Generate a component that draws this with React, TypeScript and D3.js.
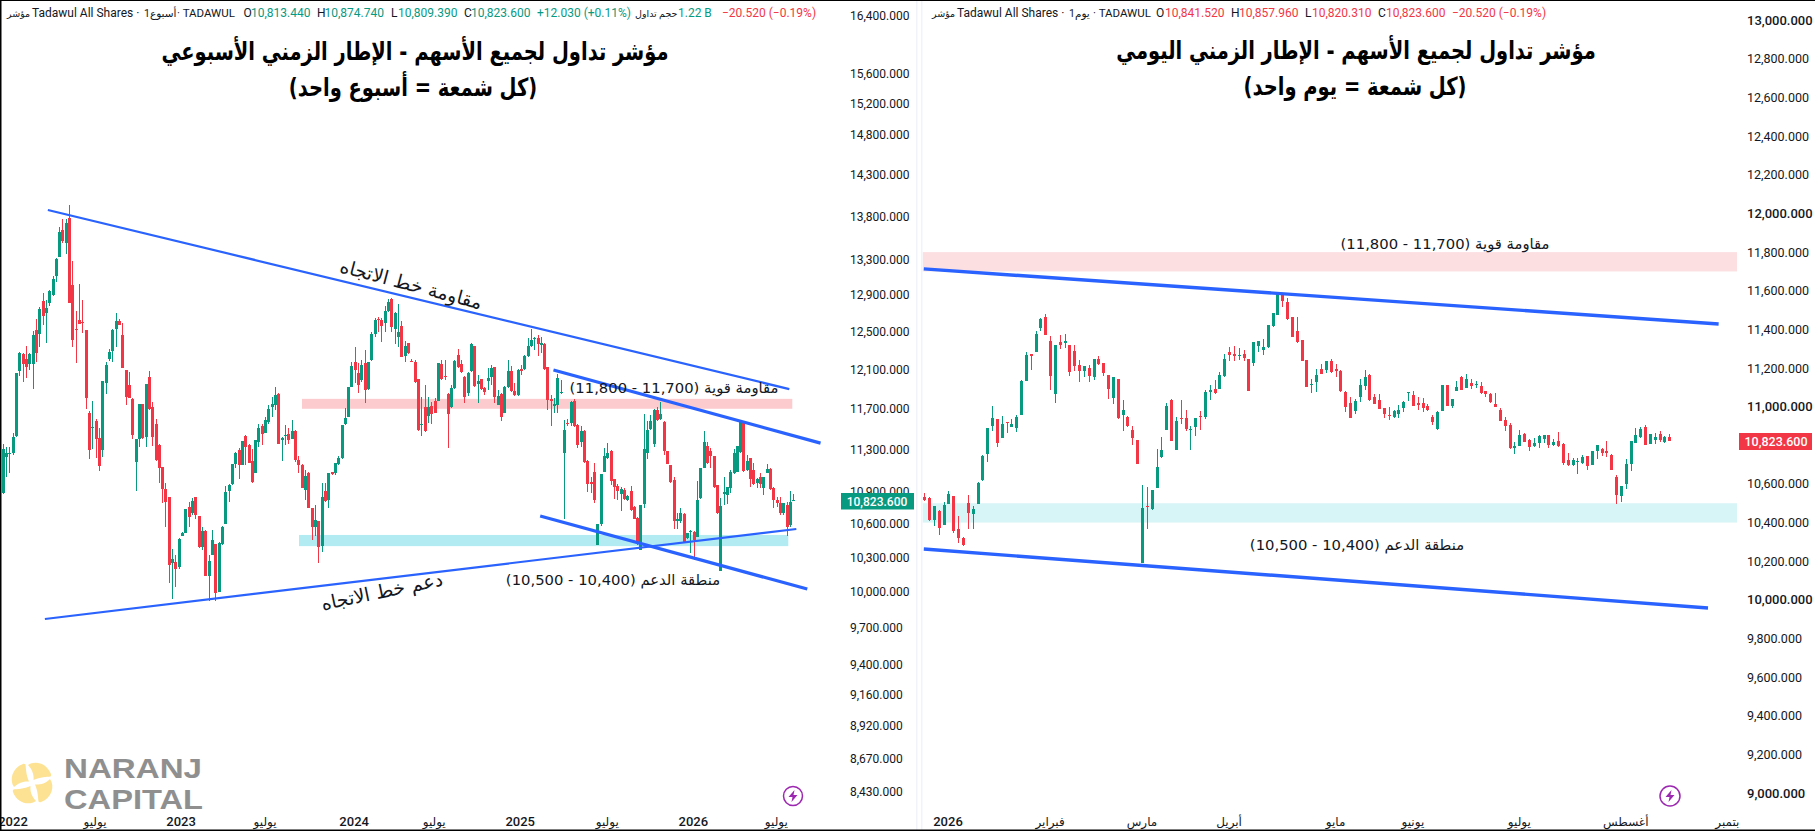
import * as d3 from 'd3';

type Candle = [number, number, number, number]; // open, high, low, close

const UP = '#089981';
const DOWN = '#f23645';
const LINE = '#2962ff';
const TEXT = '#131722';
const LAST_PRICE = 10823.6;

// weekly bars
const weeklyCandles: Candle[] = [
  [10886,11352,10874,11300],[11228,11325,11031,11260],[11254,11325,11070,11267],[11260,11455,11244,11416],[11429,12067,11423,12060],
  [12085,12286,12033,12276],[12261,12268,11974,12157],[12209,12347,12008,12130],[12157,12268,12095,12261],[12157,12506,11898,12464],
  [12517,12632,12178,12276],[12474,12770,12340,12741],[12833,12917,12570,12668],[12705,12843,12382,12752],[12807,12953,12781,12942],
  [12898,13111,12887,13077],[13111,13314,13047,13303],[13329,13670,13327,13611],[13639,13764,13492,13515],[13484,13764,13360,13724],
  [13776,13935,12812,12814],[13009,13280,12340,12410],[12528,12723,12171,12520],[12624,13021,12580,12581],[12603,12843,12489,12596],
  [12517,12518,11700,11811],[11660,11680,11209,11293],[11511,11777,11300,11517],[11580,11593,11218,11403],[11410,11504,11095,11139],
  [11293,11982,11228,11981],[11964,12181,11848,12147],[12209,12311,12185,12279],[12293,12524,12181,12517],[12528,12705,12340,12613],
  [12613,12632,12567,12574],[12464,12588,12112,12119],[12095,12096,11737,11818],[11940,12071,11810,11811],[11798,11804,11397,11436],
  [11180,11398,10905,11397],[11397,11748,11325,11747],[11751,11752,11397,11407],[11423,11951,11325,11950],[12022,12081,11686,11693],
  [11713,11767,11332,11423],[11547,11593,11190,11196],[11342,11352,10974,11123],[11126,11127,10794,10920],[10920,10974,10573,10803],
  [10846,10847,10072,10231],[10252,10370,9939,10284],[10255,10319,10043,10197],[10217,10469,10194,10468],[10492,10528,10490,10522],
  [10522,10733,10521,10732],[10757,10803,10573,10665],[10695,10834,10680,10812],[10843,10844,10649,10680],[10671,10672,10379,10388],
  [10388,10573,10364,10534],[10540,10541,10136,10139],[10139,10319,9922,10266],[10325,10543,10319,10453],[10417,10418,9922,9994],
  [9999,10433,9998,10432],[10417,10577,10409,10576],[10597,10949,10596,10893],[10905,10968,10803,10958],[10965,11156,10964,11155],
  [11158,11277,11117,11260],[11293,11309,11012,11150],[11150,11385,11149,11384],[11429,11439,11148,11325],[11345,11352,11165,11171],
  [11184,11300,10980,10990],[11073,11388,11072,11387],[11371,11553,11325,11508],[11527,11553,11339,11446],[11462,11620,11455,11586],
  [11570,11737,11553,11697],[11717,11821,11620,11747],[11737,11922,11687,11838],[11848,11861,11349,11355],[11390,11416,11190,11410],
  [11429,11543,11342,11439],[11446,11504,11352,11390],[11403,11586,11397,11475],[11481,11488,11180,11196],[11196,11234,11076,11145],
  [11145,11158,10927,10933],[10911,11101,10819,11044],[11076,11085,10747,10748],[10748,10749,10453,10573],[10573,10772,10492,10640],
  [10628,10629,10252,10394],[10400,10974,10349,10843],[10899,10974,10803,10812],[10818,11071,10748,11070],[11079,11085,11054,11067],
  [11070,11171,11054,11165],[11158,11234,11150,11215],[11212,11538,11211,11537],[11553,11710,11537,11603],[11620,11923,11613,11922],
  [11922,12181,11921,12136],[12181,12333,11964,12095],[12067,12164,11864,11943],[11991,12198,11974,12147],[12171,12304,11761,11888],
  [11895,12182,11888,12181],[12198,12499,12191,12474],[12474,12642,12446,12624],[12635,12654,12499,12621],[12624,12642,12393,12563],
  [12596,12778,12499,12727],[12727,12851,12716,12822],[12851,12862,12499,12553],[12528,12716,12368,12697],[12443,12796,12340,12492],
  [12560,12613,12232,12233],[12243,12400,12181,12347],[12375,12382,12261,12268],[12191,12215,12174,12181],[12181,12198,11964,11974],
  [11999,12000,11483,11490],[11546,11816,11434,11552],[11722,11938,11474,11480],[11631,11816,11556,11722],[11729,11773,11549,11644],
  [11783,11806,11654,11661],[11783,12173,11782,12172],[12154,12202,11992,12002],[12034,12195,11992,12027],[11850,11857,11316,11647],
  [11718,11941,11705,11907],[11907,12197,11897,12190],[12253,12312,12113,12124],[12154,12202,12060,12070],[12027,12034,11762,11823],
  [11857,12070,11830,12067],[12088,12382,12077,12368],[12347,12348,11924,11931],[11955,12043,11762,11978],[12002,12003,11890,11900],
  [11914,11924,11840,11873],[11985,12113,11890,12013],[12027,12147,11941,12113],[12124,12125,11762,11823],[11739,11890,11738,11830],
  [11847,11857,11582,11621],[11661,11931,11654,11924],[11917,12202,11907,12088],[12088,12136,11873,11880],[11883,11958,11830,11840],
  [11840,12102,11833,12095],[12102,12147,12043,12095],[12102,12253,12095,12242],[12242,12429,12236,12347],[12347,12530,12340,12411],
  [12422,12447,12305,12429],[12429,12465,12242,12368],[12368,12447,12270,12375],[12368,12375,12095,12102],[12124,12125,11688,11789],
  [11796,11840,11533,11782],[11729,11806,11661,11746],[11739,12056,11661,12010],[11857,11992,11847,11871],[11262,11588,10644,11490],
  [11556,11595,11533,11546],[11556,11782,11530,11766],[11782,11796,11523,11530],[11539,11549,11310,11342],[11375,11530,11326,11483],
  [11483,11490,11170,11176],[11186,11196,10890,10973],[10992,11038,10884,10970],[11087,11166,10796,10821],[10411,10596,10410,10595],
  [10595,11065,10580,11064],[11087,11310,11081,11237],[11214,11359,11208,11269],[11284,11294,10961,10995],[11013,11014,10827,10939],
  [10951,10970,10821,10908],[10877,10945,10722,10920],[10914,10929,10821,10827],[10815,10868,10809,10858],[10908,10951,10719,10725],
  [10759,10760,10642,10643],[10658,10660,10411,10420],[10367,10775,10361,10774],[10784,11644,10750,11304],[11262,11582,11205,11490],
  [11503,11638,11490,11582],[11352,11695,11320,11688],[11688,11722,11582,11588],[11595,11773,11588,11644],[11572,11573,11246,11284],
  [11281,11282,11157,11163],[11150,11151,10982,10988],[11007,11038,10558,10629],[10629,10697,10558,10641],[10622,10742,10607,10697],
  [10691,10697,10426,10432],[10471,10522,10462,10516],[10528,10546,10336,10540],[10531,10532,10273,10456],[10486,10998,10480,10815],
  [10834,11118,10833,11117],[11123,11480,11117,11369],[11336,11369,11163,11170],[11284,11310,11120,11237],[11237,11238,10930,10939],
  [10961,10962,10688,10697],[10180,10836,10179,10765],[10877,11032,10774,10890],[10868,10945,10784,10939],[10936,11103,10883,11087],
  [11070,11304,11063,11262],[11087,11337,11086,11336],[11278,11582,11268,11572],[11556,11572,11087,11093],[11103,11246,11096,11183],
  [11214,11221,10945,11017],[11103,11166,10961,10973],[10976,11023,10930,11017],[11038,11070,10930,10970],[10930,11038,10868,11032],
  [11075,11160,11070,11109],[11109,11119,10914,10920],[10936,10939,10744,10821],[10821,10852,10759,10790],[10796,10852,10682,10697],
  [10697,10796,10682,10790],[10774,10805,10492,10576],[10591,10908,10570,10805],[10813.44,10874.74,10809.39,10823.6],
];

// daily bars
const dailyCandles: Candle[] = [
  [10531,10552,10514,10517],[10526,10530,10410,10411],[10414,10486,10383,10486],[10462,10466,10336,10374],[10388,10504,10385,10492],
  [10497,10561,10495,10549],[10538,10540,10345,10357],[10367,10435,10293,10319],[10319,10324,10279,10285],[10500,10543,10366,10452],
  [10445,10486,10366,10471],[10498,10609,10496,10605],[10618,10749,10616,10745],[10757,10890,10714,10890],[10902,11004,10875,10942],
  [10937,10938,10793,10812],[10838,10952,10836,10909],[10919,10920,10862,10914],[10897,10935,10895,10911],[10892,10957,10869,10945],
  [10959,11137,10956,11133],[11135,11283,11133,11268],[11273,11274,11190,11264],[11285,11392,11283,11378],[11408,11461,11392,11456],
  [11465,11480,11369,11371],[11340,11366,11087,11159],[11063,11320,11021,11320],[11335,11371,11299,11321],[11327,11377,11304,11339],
  [11320,11321,11159,11180],[11289,11320,11187,11211],[11216,11242,11130,11187],[11187,11211,11151,11211],[11201,11216,11130,11159],
  [11151,11248,11139,11247],[11247,11263,11216,11221],[11225,11226,11161,11176],[11164,11165,11040,11092],[11047,11154,11016,11154],
  [11144,11145,10935,10942],[10959,11035,10875,10983],[10949,10952,10897,10900],[10880,10900,10802,10838],[10825,10828,10703,10704],
  [10193,10595,10192,10476],[10486,10585,10367,10483],[10469,10569,10466,10566],[10581,10781,10578,10688],[10738,10842,10733,10776],
  [10880,11018,10879,11004],[11035,11038,10822,10823],[10776,10945,10775,10926],[10942,11035,10911,10938],[10942,10983,10875,10885],
  [10881,10900,10776,10885],[10895,10943,10849,10942],[10952,10978,10880,10947],[10944,11087,10937,11076],[11076,11113,11035,11087],
  [11092,11139,11066,11070],[11092,11180,11091,11164],[11159,11273,11154,11247],[11283,11309,11237,11268],[11273,11314,11237,11263],
  [11263,11304,11242,11268],[11273,11294,11237,11252],[11247,11248,11081,11082],[11226,11335,11211,11335],[11314,11340,11283,11340],
  [11294,11351,11268,11309],[11309,11423,11304,11423],[11418,11485,11414,11485],[11475,11587,11473,11584],[11584,11585,11516,11547],
  [11542,11563,11449,11452],[11465,11466,11359,11361],[11392,11465,11330,11333],[11345,11346,11236,11237],[11242,11243,11101,11102],
  [11113,11144,11071,11118],[11128,11195,11076,11164],[11195,11221,11168,11170],[11190,11237,11176,11237],[11237,11245,11176,11180],
  [11195,11221,11154,11185],[11185,11190,11076,11082],[11076,11082,10973,10999],[11020,11049,10941,10942],[10978,11040,10963,11030],
  [11051,11144,11025,11113],[11107,11190,11087,11154],[11164,11168,11031,11032],[11051,11066,11013,11014],[11035,11066,10988,10988],
  [10994,10995,10942,10963],[10957,10999,10931,10952],[10947,10983,10942,10978],[10963,11007,10942,10983],[10994,11030,10973,11025],
  [11071,11075,11028,11075],[11061,11082,11003,11004],[11020,11051,10983,11009],[11020,11045,10973,10994],[11004,11014,10978,10983],
  [10947,10957,10906,10921],[10885,10978,10880,10973],[10978,11113,10977,11113],[11113,11114,11003,11004],[11004,11040,10994,11040],
  [11082,11133,11080,11102],[11154,11158,11086,11087],[11097,11170,11096,11144],[11123,11144,11092,11107],[11113,11133,11095,11118],
  [11107,11128,11066,11071],[11082,11083,11052,11066],[11066,11071,11020,11025],[11014,11071,10998,10999],[10983,10994,10925,10926],
  [10931,10947,10875,10900],[10906,10914,10781,10785],[10785,10818,10756,10797],[10797,10880,10796,10854],[10859,10862,10817,10818],
  [10828,10833,10771,10792],[10797,10838,10792,10812],[10812,10852,10787,10849],[10833,10855,10812,10854],[10852,10854,10787,10802],
  [10802,10833,10797,10816],[10823,10869,10792,10797],[10807,10812,10699,10707],[10724,10761,10693,10699],[10699,10735,10693,10723],
  [10716,10733,10652,10719],[10709,10750,10704,10740],[10745,10746,10673,10693],[10699,10771,10698,10771],[10771,10802,10730,10802],
  [10781,10787,10745,10761],[10771,10823,10740,10762],[10750,10755,10672,10673],[10636,10647,10497,10542],[10538,10590,10507,10590],
  [10600,10730,10574,10704],[10704,10823,10668,10823],[10812,10890,10811,10854],[10844,10897,10838,10885],[10895,10906,10801,10802],
  [10809,10859,10807,10857],[10828,10863,10809,10844],[10859,10875,10818,10826],[10816,10849,10812,10844],[10841.52,10857.96,10820.31,10823.6],
];

const weeklyTicks = [16400,15600,15200,14800,14300,13800,13300,12900,12500,12100,11700,11300,10900,10600,10300,10000,9700,9400,9160,8920,8670,8430];
const dailyTicks = [13000,12800,12600,12400,12200,12000,11800,11600,11400,11200,11000,10600,10400,10200,10000,9800,9600,9400,9200,9000];

const weeklyTimeLabels = ['2022','يوليو','2023','يوليو','2024','يوليو','2025','يوليو','2026','يوليو'];
const weeklyTimeBars = [3.1,27.8,53.7,79,105.8,129.9,155.8,182,207.9,232.9];
const dailyTimeLabels = ['2026','فبراير','مارس','أبريل','مايو','يونيو','يوليو','أغسطس','بتمبر'];
const dailyTimeBars = [4.9,26,45,63,85,101,123,145,166];

// trendlines: [bar, price, bar, price, stroke]
const weeklyLines = [
  [13.6,13875,236.8,11899,2.2],
  [12.7,9770,238.9,10554,2.2],
  [165.8,12095,246.2,11360,3.2],
  [161.8,10672,242.2,10024,3.2],
];
const dailyLines = [
  [-0.1,11713,164.2,11428,3.4],
  [-0.1,10263,162,9958,3.4],
];

const resistanceZone = [11800,11700];
const supportZone = [10500,10400];

const FONT = "Roboto, 'DejaVu Sans', sans-serif";
const ARABIC = "'DejaVu Sans', sans-serif";

const Candles = ({ data, x, y, w }: { data: Candle[]; x: (i: number) => number; y: (v: number) => number; w: number }) => (
  <g shapeRendering="crispEdges">
    {data.map(([o, h, l, c], i) => {
      const cx = Math.round(x(i));
      const col = c >= o ? UP : DOWN;
      const top = y(Math.max(o, c));
      const bot = y(Math.min(o, c));
      return (
        <g key={i} fill={col}>
          <rect x={cx} y={y(h)} width={1} height={Math.max(1, y(l) - y(h))} />
          <rect x={cx + 0.5 - w / 2} y={top} width={w} height={Math.max(1.2, bot - top)} />
        </g>
      );
    })}
  </g>
);

const Bolt = ({ cx, cy, r }: { cx: number; cy: number; r: number }) => (
  <g transform={`translate(${cx},${cy})`}>
    <circle r={r} fill="#fff" stroke="#9c27b0" strokeWidth={1.5} />
    <path d="M1.5,-6 L-4.5,1 L-0.5,1 L-1.5,6 L4.5,-1 L0.5,-1 Z" fill="#9c27b0" />
  </g>
);

const Seg = ({ x, y, t, fill = TEXT, size = 12 }: { x: number; y: number; t: string; fill?: string; size?: number }) => (
  <text x={x} y={y} fontFamily={FONT} fontSize={size} fill={fill}>{t}</text>
);

const Title = ({ x, y, t }: { x: number; y: number; t: string }) => (
  <text transform={`translate(${x},${y}) scale(0.78,1)`} textAnchor="middle" direction="rtl" fontFamily={ARABIC} fontWeight="bold" fontSize={25} fill="#000">{t}</text>
);

const Logo = () => (
  <g>
    <g transform="translate(32,783)" fill="#fde293">
      {[0, 90, 180, 270].map(a => (
        <path key={a} transform={`rotate(${a})`} d="M1.5,-3 C2,-7 1,-13 -4,-18 C3,-23 15,-20 19,-9 C19.5,-8 19,-7 18.5,-6.5 C15,-6 8,-6 1.5,-3 Z" />
      ))}
    </g>
    <text x={64} y={778} fontFamily="'Liberation Sans', sans-serif" fontWeight="bold" fontSize={28.5} fill="#8f8f8f" textLength={138} lengthAdjust="spacingAndGlyphs">NARANJ</text>
    <text x={64} y={809} fontFamily="'Liberation Sans', sans-serif" fontWeight="bold" fontSize={28.5} fill="#8f8f8f" textLength={139} lengthAdjust="spacingAndGlyphs">CAPITAL</text>
  </g>
);

export default function App() {
  const wy = d3.scaleLog().domain([16400, 8430]).range([15, 791]);
  const wx = d3.scaleLinear().domain([0, weeklyCandles.length - 1]).range([2.7, 793.3]);
  const dy = d3.scaleLinear().domain([13000, 9000]).range([20.3, 793]);
  const dx = d3.scaleLinear().domain([0, dailyCandles.length - 1]).range([924.3, 1669.3]);
  const fmt = d3.format(',.3f');

  return (
    <svg width={1815} height={831} style={{ position: 'absolute', left: 0, top: 0, background: '#fff' }}>
      <rect x={0} y={0} width={1815} height={831} fill="#fff" />

      {/* left panel: weekly */}
      <rect x={wx(90.1)} width={wx(237.7) - wx(90.1)} y={wy(resistanceZone[0])} height={wy(resistanceZone[1]) - wy(resistanceZone[0])} fill="#fccbcd" />
      <rect x={wx(89.2)} width={wx(236.5) - wx(89.2)} y={wy(supportZone[0])} height={wy(supportZone[1]) - wy(supportZone[0])} fill="#b2ebf2" />
      <Candles data={weeklyCandles} x={wx} y={wy} w={3} />
      {weeklyLines.map(([a, p, b, q, sw], i) => (
        <line key={i} x1={wx(a)} y1={wy(p)} x2={wx(b)} y2={wy(q)} stroke={LINE} strokeWidth={sw} />
      ))}

      <Title x={415} y={60} t="مؤشر تداول لجميع الأسهم - الإطار الزمني الأسبوعي" />
      <Title x={413} y={96} t="(كل شمعة = أسبوع واحد)" />

      <text transform="translate(411,285) rotate(14.9)" textAnchor="middle" direction="rtl" fontFamily={ARABIC} fontSize={19} fill={TEXT} dy="6">مقاومة خط الاتجاه</text>
      <text transform="translate(382,592) rotate(-11.7)" textAnchor="middle" direction="rtl" fontFamily={ARABIC} fontSize={19} fill={TEXT} dy="6">دعم خط الاتجاه</text>
      <text x={674} y={393} textAnchor="middle" direction="rtl" fontFamily={ARABIC} fontSize={14.8} fill={TEXT}>مقاومة قوية (11,700 - 11,800)</text>
      <text x={613} y={585} textAnchor="middle" direction="rtl" fontFamily={ARABIC} fontSize={14.8} fill={TEXT}>منطقة الدعم (10,400 - 10,500)</text>

      <Seg x={7} y={17} t="مؤشر" size={9.5} />
      <Seg x={32} y={17} t="Tadawul All Shares ·" />
      <Seg x={144} y={17} t="1أسبوع" size={10.5} />
      <Seg x={177} y={17} t="· TADAWUL" size={11.5} />
      <Seg x={243.5} y={17} t="O" />
      <Seg x={251} y={17} t="10,813.440" fill={UP} />
      <Seg x={317} y={17} t="H" />
      <Seg x={324.5} y={17} t="10,874.740" fill={UP} />
      <Seg x={391} y={17} t="L" />
      <Seg x={398} y={17} t="10,809.390" fill={UP} />
      <Seg x={464} y={17} t="C" />
      <Seg x={471} y={17} t="10,823.600" fill={UP} />
      <Seg x={537} y={17} t="+12.030 (+0.11%)" fill={UP} />
      <Seg x={635} y={17} t="حجم تداول" size={9.5} />
      <Seg x={678} y={17} t="1.22 B" fill={UP} />
      <Seg x={722} y={17} t="−20.520 (−0.19%)" fill={DOWN} />

      {weeklyTicks.map(t => (
        <text key={t} x={850} y={wy(t) + 4.5} fontFamily={FONT} fontSize={12} fill={TEXT}>{fmt(t)}</text>
      ))}
      <rect x={841} y={493} width={73} height={16.5} fill={UP} />
      <text x={877} y={505.5} textAnchor="middle" fontFamily={FONT} fontSize={12} fontWeight={500} fill="#fff">{fmt(LAST_PRICE)}</text>

      {weeklyTimeLabels.map((t, i) => (
        <text key={i} x={wx(weeklyTimeBars[i])} y={826} textAnchor="middle" fontFamily={FONT} fontSize={/\d/.test(t) ? 13 : 12} fontWeight={/\d/.test(t) ? 500 : 400} fill={TEXT}>{t}</text>
      ))}
      <Logo />
      <Bolt cx={793} cy={796} r={9.5} />

      {/* panel separators */}
      <rect x={916} y={0} width={1.5} height={831} fill="#f0f3fa" />
      <rect x={921} y={0} width={1.5} height={831} fill="#f0f3fa" />

      {/* right panel: daily */}
      <rect x={dx(-0.3)} width={dx(168) - dx(-0.3)} y={dy(resistanceZone[0])} height={dy(resistanceZone[1]) - dy(resistanceZone[0])} fill="#fcdfe1" />
      <rect x={dx(-0.3)} width={dx(168) - dx(-0.3)} y={dy(supportZone[0])} height={dy(supportZone[1]) - dy(supportZone[0])} fill="#d7f4f6" />
      <Candles data={dailyCandles} x={dx} y={dy} w={3} />
      {dailyLines.map(([a, p, b, q, sw], i) => (
        <line key={i} x1={dx(a)} y1={dy(p)} x2={dx(b)} y2={dy(q)} stroke={LINE} strokeWidth={sw} />
      ))}

      <Title x={1356} y={59} t="مؤشر تداول لجميع الأسهم - الإطار الزمني اليومي" />
      <Title x={1355} y={95} t="(كل شمعة = يوم واحد)" />
      <text x={1445} y={249} textAnchor="middle" direction="rtl" fontFamily={ARABIC} fontSize={14.8} fill={TEXT}>مقاومة قوية (11,700 - 11,800)</text>
      <text x={1357} y={550} textAnchor="middle" direction="rtl" fontFamily={ARABIC} fontSize={14.8} fill={TEXT}>منطقة الدعم (10,400 - 10,500)</text>

      <Seg x={932} y={17} t="مؤشر" size={9.5} />
      <Seg x={957} y={17} t="Tadawul All Shares ·" />
      <Seg x={1069} y={17} t="1يوم" size={10.5} />
      <Seg x={1093} y={17} t="· TADAWUL" size={11.5} />
      <Seg x={1156} y={17} t="O" />
      <Seg x={1165} y={17} t="10,841.520" fill={DOWN} />
      <Seg x={1231} y={17} t="H" />
      <Seg x={1239} y={17} t="10,857.960" fill={DOWN} />
      <Seg x={1305} y={17} t="L" />
      <Seg x={1312} y={17} t="10,820.310" fill={DOWN} />
      <Seg x={1378} y={17} t="C" />
      <Seg x={1386} y={17} t="10,823.600" fill={DOWN} />
      <Seg x={1452} y={17} t="−20.520 (−0.19%)" fill={DOWN} />

      {dailyTicks.map(t => (
        <text key={t} x={1747} y={dy(t) + 4.5} fontFamily={FONT} fontSize={t % 1000 === 0 ? 13 : 12.5} fontWeight={t % 1000 === 0 ? 500 : 400} fill={TEXT}>{fmt(t)}</text>
      ))}
      <rect x={1739} y={433} width={73} height={17} fill={DOWN} />
      <text x={1776} y={445.5} textAnchor="middle" fontFamily={FONT} fontSize={12.5} fontWeight={500} fill="#fff">{fmt(LAST_PRICE)}</text>

      {dailyTimeLabels.map((t, i) => (
        <text key={i} x={dx(dailyTimeBars[i])} y={826} textAnchor="middle" fontFamily={FONT} fontSize={/\d/.test(t) ? 13 : 12} fontWeight={/\d/.test(t) ? 500 : 400} fill={TEXT}>{t}</text>
      ))}
      <Bolt cx={1670} cy={796} r={10} />

      {/* screenshot frame */}
      <rect x={0} y={0} width={1.5} height={831} fill="#000" />
      <rect x={0} y={0} width={1815} height={1} fill="#000" />
      <rect x={0} y={829.5} width={1815} height={1.5} fill="#000" />
    </svg>
  );
}
